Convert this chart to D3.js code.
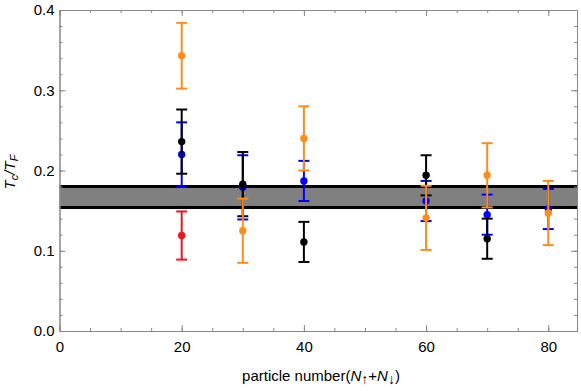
<!DOCTYPE html>
<html lang="en">
<head>
  <meta charset="utf-8">
  <title>Tc/TF vs particle number</title>
  <script src="https://d3js.org/d3.v7.min.js"></script>
  <style>
    body { margin: 0; background: #fff; }
    text { font-family: "Liberation Sans", Arial, sans-serif; }
  </style>
</head>
<body>
<script>
// band of the reference value
var bandLow = 0.154;
var bandHigh = 0.18;

// each series: particle numbers, Tc/TF values, error half widths
var redN = [20];
var redVal = [0.119];
var redErr = [0.03];

var blueN = [20, 30, 40, 60, 70, 80];
var blueVal = [0.220, 0.179, 0.187, 0.162, 0.145, 0.152];
var blueErr = [0.04, 0.04, 0.025, 0.025, 0.025, 0.025];

var blackN = [20, 30, 40, 60, 70];
var blackVal = [0.236, 0.183, 0.111, 0.194, 0.115];
var blackErr = [0.04, 0.04, 0.025, 0.025, 0.025];

var orangeN = [20, 30, 40, 60, 70, 80];
var orangeVal = [0.343, 0.125, 0.240, 0.141, 0.194, 0.147];
var orangeErr = [0.041, 0.04, 0.04, 0.04, 0.04, 0.04];

var xTicks = [0, 20, 40, 60, 80];
var yTicks = [0, 0.1, 0.2, 0.3, 0.4];

var w = 581, h = 391;
// plot frame edges ("top" is reserved on window, so use other names)
var padL = 59.5, padR = 577, padT = 10, padB = 331;

var x = d3.scaleLinear().domain([0, 84.7]).range([padL, padR]);
var y = d3.scaleLinear().domain([0, 0.4]).range([padB, padT]);

var svg = d3.select('body').append('svg')
  .attr('width', w)
  .attr('height', h);

// grey band with black edges
svg.append('rect')
  .attr('x', x(0))
  .attr('y', y(bandHigh))
  .attr('width', x(84.7) - x(0))
  .attr('height', y(bandLow) - y(bandHigh))
  .attr('fill', '#808080');

[bandLow, bandHigh].forEach(function(v) {
  svg.append('line')
    .attr('x1', x(0)).attr('x2', x(84.7))
    .attr('y1', y(v)).attr('y2', y(v))
    .attr('stroke', 'black')
    .attr('stroke-width', 3);
});

// frame axes, ticks pointing inward
var axisColor = '#888';
var xMinor = d3.range(0, 85, 5);
var yMinor = d3.range(0, 0.401, 0.02);

function styleAxis(g) {
  g.selectAll('path').attr('stroke', axisColor);
  g.selectAll('line').attr('stroke', axisColor);
  g.selectAll('text').attr('fill', '#000').style('font-size', '15px');
}

svg.append('g').attr('transform', 'translate(0,' + padB + ')')
  .call(d3.axisBottom(x).tickValues(xMinor).tickSize(-3).tickFormat('').tickSizeOuter(0)).call(styleAxis);
svg.append('g').attr('transform', 'translate(0,' + padB + ')')
  .call(d3.axisBottom(x).tickValues(xTicks).tickSize(-6).tickPadding(10).tickSizeOuter(0)).call(styleAxis);
svg.append('g').attr('transform', 'translate(0,' + padT + ')')
  .call(d3.axisTop(x).tickValues(xMinor).tickSize(-3).tickFormat('').tickSizeOuter(0)).call(styleAxis);
svg.append('g').attr('transform', 'translate(0,' + padT + ')')
  .call(d3.axisTop(x).tickValues(xTicks).tickSize(-6).tickFormat('').tickSizeOuter(0)).call(styleAxis);

svg.append('g').attr('transform', 'translate(' + padL + ',0)')
  .call(d3.axisLeft(y).tickValues(yMinor).tickSize(-3).tickFormat('').tickSizeOuter(0)).call(styleAxis);
svg.append('g').attr('transform', 'translate(' + padL + ',0)')
  .call(d3.axisLeft(y).tickValues(yTicks).tickSize(-6).tickPadding(5).tickFormat(d3.format('.1f')).tickSizeOuter(0)).call(styleAxis);
svg.append('g').attr('transform', 'translate(' + padR + ',0)')
  .call(d3.axisRight(y).tickValues(yMinor).tickSize(-3).tickFormat('').tickSizeOuter(0)).call(styleAxis);
svg.append('g').attr('transform', 'translate(' + padR + ',0)')
  .call(d3.axisRight(y).tickValues(yTicks).tickSize(-6).tickFormat('').tickSizeOuter(0)).call(styleAxis);

// error bars and points
function drawSeries(ns, vals, errs, color) {
  var g = svg.append('g');
  var cap = 5.5;
  ns.forEach(function(n, i) {
    var cx = x(n);
    var lo = y(vals[i] - errs[i]);
    var hi = y(vals[i] + errs[i]);
    g.append('line').attr('x1', cx).attr('x2', cx).attr('y1', lo).attr('y2', hi)
      .attr('stroke', color).attr('stroke-width', 2);
    [lo, hi].forEach(function(yy) {
      g.append('line').attr('x1', cx - cap).attr('x2', cx + cap).attr('y1', yy).attr('y2', yy)
        .attr('stroke', color).attr('stroke-width', 2);
    });
    g.append('circle').attr('cx', cx).attr('cy', y(vals[i])).attr('r', 3.7).attr('fill', color);
  });
}

drawSeries(redN, redVal, redErr, '#f0141e');
drawSeries(blueN, blueVal, blueErr, '#0000ff');
drawSeries(blackN, blackVal, blackErr, '#000000');
drawSeries(orangeN, orangeVal, orangeErr, '#ff8c1a');

// axis labels
var yl = svg.append('text')
  .attr('transform', 'translate(15,172) rotate(-90)')
  .attr('text-anchor', 'middle')
  .style('font-size', '15px')
  .style('font-style', 'italic');
yl.append('tspan').text('T');
yl.append('tspan').attr('dy', 3).style('font-size', '11px').text('c');
yl.append('tspan').attr('dy', -3).text('/T');
yl.append('tspan').attr('dy', 3).style('font-size', '11px').text('F');

var xl = svg.append('text')
  .attr('x', 321).attr('y', 381)
  .attr('text-anchor', 'middle')
  .style('font-size', '15px');
xl.append('tspan').text('particle number(');
xl.append('tspan').style('font-style', 'italic').text('N');
xl.append('tspan').attr('dy', 3).style('font-size', '14px').text('\u2191');
xl.append('tspan').attr('dy', -3).text('+');
xl.append('tspan').style('font-style', 'italic').text('N');
xl.append('tspan').attr('dy', 3).style('font-size', '14px').text('\u2193');
xl.append('tspan').attr('dy', -3).text(')');
</script>
</body>
</html>
